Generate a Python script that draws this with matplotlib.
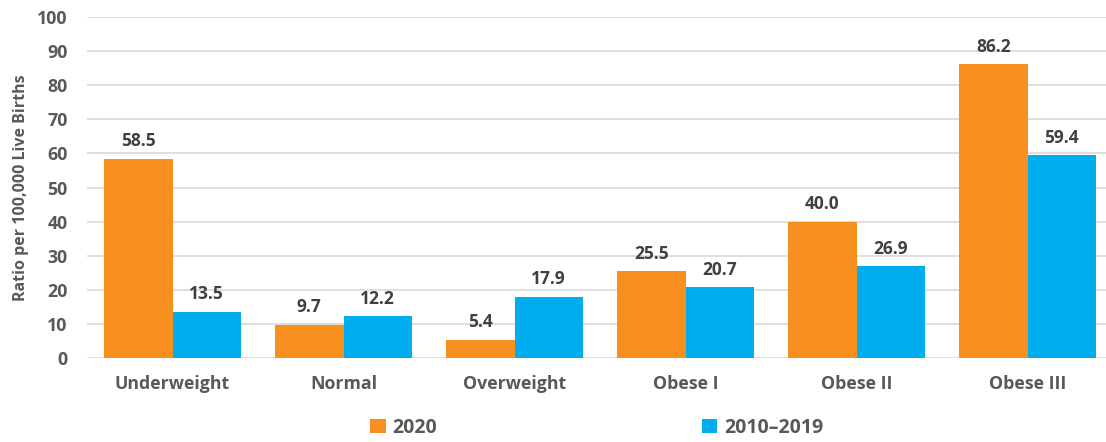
import numpy as np
import matplotlib
matplotlib.use("Agg")
import matplotlib.pyplot as plt

# data
categories = ["Underweight", "Normal", "Overweight", "Obese I", "Obese II", "Obese III"]
vals_2020 = [58.5, 9.7, 5.4, 25.5, 40.0, 86.2]
vals_2010_2019 = [13.5, 12.2, 17.9, 20.7, 26.9, 59.4]
series_names = ["2020", "2010\u20132019"]

ORANGE = "#F7901E"
BLUE = "#00AEEF"
GRAY = "#595959"
DARK = "#404040"

plt.rcParams['font.family'] = ['Open Sans', 'DejaVu Sans']
plt.rcParams['font.weight'] = 'bold'

fig = plt.figure(figsize=(11.06, 4.42), dpi=100)
ax = fig.add_axes([0.0787, 0.19, 0.9277, 0.7715])

x = np.arange(len(categories))
w = 0.40
b1 = ax.bar(x - w/2, vals_2020, w, color=ORANGE, label=series_names[0], zorder=2)
b2 = ax.bar(x + w/2, vals_2010_2019, w, color=BLUE, label=series_names[1], zorder=2)

for bars in (b1, b2):
    for r in bars:
        h = r.get_height()
        ax.text(r.get_x() + r.get_width()/2, h + 2.5, f"{h:.1f}",
                ha='center', va='bottom', fontsize=12.5, fontweight='bold', color=DARK)

ax.set_xlim(-0.5, len(categories) - 0.5)
ax.set_ylim(0, 100)
ax.set_yticks(range(0, 101, 10))
ax.set_xticks(x)
ax.set_xticklabels(categories)
ax.tick_params(axis='both', length=0, labelsize=12.8, labelcolor=GRAY)
ax.tick_params(axis='x', pad=12)
ax.tick_params(axis='y', pad=14)
for lbl in ax.get_xticklabels() + ax.get_yticklabels():
    lbl.set_fontweight('bold')

ax.grid(axis='y', color="#D9D9D9", lw=1.2, zorder=0)
for s in ax.spines.values():
    s.set_visible(False)

ax.set_ylabel("Ratio per 100,000 Live Births", fontsize=11.5, fontweight='bold', color=GRAY, labelpad=6)

leg = fig.legend(handles=[b1, b2], labels=series_names, loc='lower center',
                 bbox_to_anchor=(0.5395, -0.03), ncol=2, frameon=False,
                 fontsize=14, columnspacing=13.6, handlelength=0.8, handleheight=0.8,
                 handletextpad=0.35)
for t in leg.get_texts():
    t.set_color(GRAY)
    t.set_fontweight('bold')

plt.savefig("out.png", dpi=100)
